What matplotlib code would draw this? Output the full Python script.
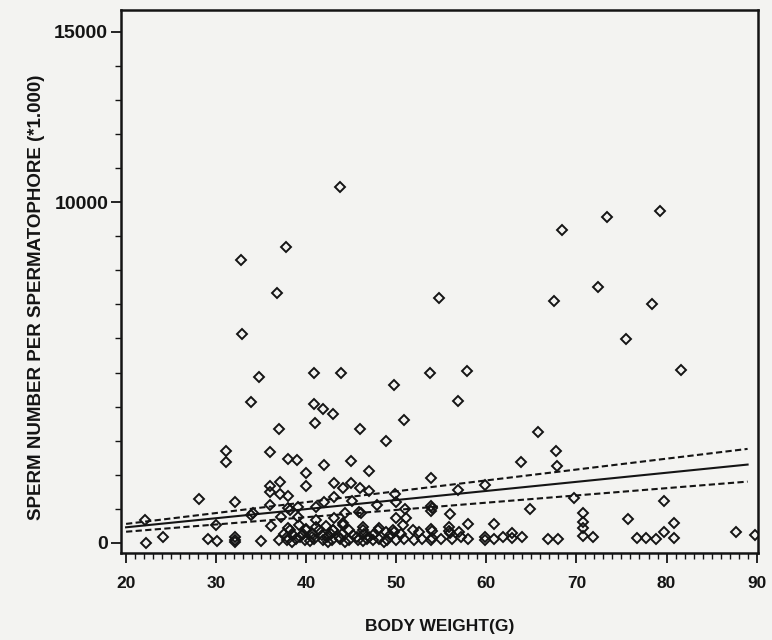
import matplotlib
matplotlib.use("Agg")
import matplotlib.pyplot as plt
from matplotlib.ticker import FixedLocator, MultipleLocator

# Body weight (g) and sperm count per spermatophore (x1000)
weight = [
    43.7, 37.8, 32.8, 79.3, 73.4, 68.4, 54.7, 67.5, 72.4, 78.4, 36.8,
    75.5, 81.6, 53.7, 57.8, 56.8, 32.9, 34.8, 33.9, 40.9, 43.9, 49.8,
    50.9, 40.9, 41.9, 43.0, 41.0, 37.0, 46.0, 48.9, 65.7, 31.1, 31.1,
    36.0, 38.0, 39.0, 42.0, 45.0, 47.0, 40.0, 67.7, 63.8, 67.8,
    40.0, 37.1, 36.0, 36.0, 37.1, 38.0, 43.1, 44.1, 45.0, 46.0, 47.0,
    43.1, 49.9, 53.8, 28.1, 32.1, 36.0, 39.1, 41.1, 42.0, 45.1, 47.9,
    50.0, 56.9, 59.9, 69.7, 79.7, 54.0, 51.0, 53.9, 38.0,
    22.1, 34.1, 38.2, 41.1, 43.1, 44.3, 46.1, 50.0, 51.1, 30.0, 36.1,
    37.2, 39.2, 42.2, 44.1, 46.3, 48.1, 50.7, 64.8, 56.0, 70.7, 70.7,
    75.7, 80.8, 58.0, 60.9, 33.9, 39.1, 45.9, 55.9, 53.9,
    22.2, 24.1, 29.1, 30.1, 32.1, 32.1, 32.1, 35.0, 70.7, 70.7, 71.8,
    79.7, 80.8, 76.7, 77.7, 78.8, 87.7, 89.8, 54.0, 54.0, 55.0, 56.0,
    56.2, 57.2, 58.0, 59.8, 59.9, 60.9, 61.9, 62.9, 62.9, 63.9, 66.8,
    67.9, 57.0, 53.9, 55.9, 51.8, 38.0, 40.0, 41.1, 43.0, 44.1,
    37.0, 37.9, 38.9, 39.9, 40.9, 41.9, 42.9, 43.8, 44.8, 45.8, 46.8,
    47.4, 48.1, 49.0, 50.0, 50.9, 52.0, 52.9, 53.9,
    38.4, 40.4, 42.4, 44.3, 46.3, 48.6,
    37.5, 38.5, 39.6, 40.6, 41.7, 42.8, 44.0, 45.2, 46.4, 47.5, 49.3, 50.5,
    38.2, 40.0, 41.4, 43.0, 44.7, 46.3, 48.0, 49.6,
    48.9, 49.8, 52.5,
    37.9, 39.3, 40.6, 42.3, 43.6, 45.6, 47.0,
]
sperm = [
    10430, 8690, 8300, 9750, 9550, 9180, 7180, 7090, 7520, 7020, 7340,
    5990, 5080, 4980, 5050, 4170, 6130, 4860, 4130, 4980, 4980, 4630,
    3600, 4070, 3930, 3780, 3520, 3340, 3340, 3000, 3250, 2700, 2380,
    2660, 2460, 2430, 2290, 2400, 2120, 2040, 2700, 2370, 2260,
    1670, 1800, 1670, 1505, 1430, 1380, 1770, 1600, 1770, 1600, 1525,
    1360, 1440, 1920, 1280, 1200, 1115, 1065, 1065, 1210, 1240, 1115,
    1210, 1555, 1710, 1310, 1240, 1020, 990, 1085, 1018,
    675, 870, 968, 675, 724, 870, 870, 724, 724, 528, 508,
    772, 528, 499, 528, 479, 430, 528, 1000, 842, 870, 625,
    700, 600, 548, 548, 821, 754, 918, 479, 947,
    0, 167, 109, 68, 167, 38, 100, 59, 430, 205, 170,
    330, 137, 155, 155, 117, 332, 235, 361, 137, 109, 284,
    109, 186, 109, 186, 88, 109, 167, 303, 137, 186, 109,
    109, 332, 401, 361, 381, 430, 401, 479, 381, 578,
    100, 90, 110, 95, 105, 100, 90, 110, 100, 95, 105,
    100, 110, 95, 100, 105, 100, 110, 100,
    40, 45, 35, 40, 45, 40,
    250, 240, 260, 250, 245, 255, 250, 240, 260, 250, 245, 250,
    381, 381, 381, 381, 381, 381, 381, 381,
    330, 330, 330,
    180, 175, 185, 180, 175, 185, 180,
]

# Fitted regression line with its interval bands
fit_x = [20, 89]
fit_y = [460, 2300]
band_upper = [560, 2760]
band_lower = [330, 1800]

ink = "#141414"
paper = "#f3f3f1"

fig = plt.figure(figsize=(7.72, 6.4), dpi=100, facecolor=paper)
ax = fig.add_axes([0.1563, 0.1364, 0.8255, 0.848], facecolor=paper)

ax.plot(weight, sperm, linestyle="none", marker="D", markersize=5.4,
        markerfacecolor="none", markeredgecolor=ink, markeredgewidth=1.4)

ax.plot(fit_x, fit_y, color=ink, linewidth=1.5)
ax.plot(fit_x, band_upper, color=ink, linewidth=1.5, linestyle=(0, (3.0, 1.6)))
ax.plot(fit_x, band_lower, color=ink, linewidth=1.5, linestyle=(0, (3.0, 1.6)))

ax.set_xlim(19.4, 90.15)
ax.set_ylim(-285, 15633)

ax.xaxis.set_major_locator(FixedLocator([20, 30, 40, 50, 60, 70, 80, 90]))
ax.xaxis.set_minor_locator(MultipleLocator(1))
ax.yaxis.set_major_locator(FixedLocator([0, 10000, 15000]))
ax.yaxis.set_minor_locator(MultipleLocator(1000))

for s in ax.spines.values():
    s.set_linewidth(1.8)
    s.set_color(ink)

ax.tick_params(axis="both", which="major", direction="out", length=7,
               width=1.3, color=ink)
ax.tick_params(axis="both", which="minor", direction="out", length=4,
               width=1.0, color=ink)
ax.tick_params(axis="x", which="major", pad=10)
ax.tick_params(axis="y", which="major", pad=2)

tick_font = dict(family=["Liberation Sans", "DejaVu Sans"], weight="bold")
for lab in ax.get_xticklabels():
    lab.set_fontsize(12.5)
    lab.set(**tick_font)
    lab.set_color(ink)
for lab in ax.get_yticklabels():
    lab.set_fontsize(14)
    lab.set(**tick_font)
    lab.set_color(ink)

ax.set_xlabel("BODY WEIGHT(G)", fontsize=12.5, color=ink, labelpad=20,
              family=["Liberation Sans", "DejaVu Sans"], weight="bold")
ax.set_ylabel("SPERM NUMBER PER SPERMATOPHORE (*1.000)", fontsize=13.5,
              color=ink,
              family=["Liberation Sans", "DejaVu Sans"], weight="bold")
ax.yaxis.set_label_coords(-0.118, 0.47)

fig.savefig("out.png", dpi=100, facecolor=paper)
